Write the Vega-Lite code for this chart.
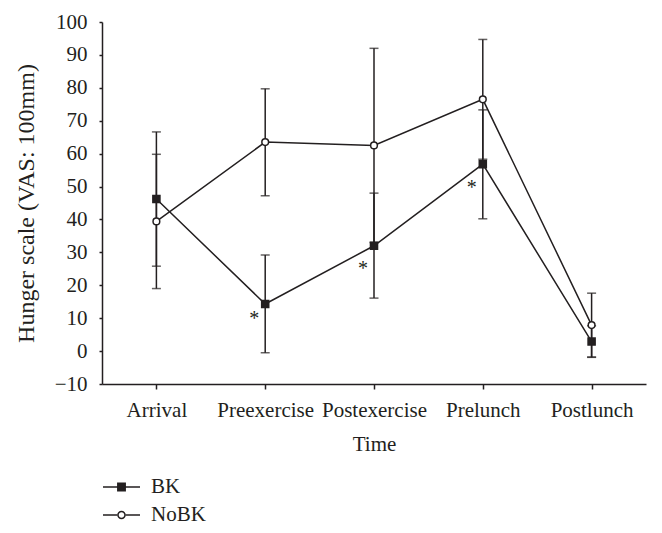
{
  "$schema": "https://vega.github.io/schema/vega-lite/v6.json",
  "width": 544,
  "height": 362,
  "autosize": {"type": "none"},
  "padding": {"left": 102, "top": 22, "right": 16, "bottom": 149},
  "background": "white",
  "config": {
    "view": {"stroke": null},
    "font": "Liberation Serif",
    "axis": {
      "domainColor": "#231f20",
      "tickColor": "#231f20",
      "labelColor": "#231f20",
      "titleColor": "#231f20",
      "labelFont": "Liberation Serif",
      "titleFont": "Liberation Serif",
      "labelFontSize": 21,
      "titleFontSize": 21,
      "titleFontWeight": "normal",
      "grid": false,
      "domainWidth": 1.5,
      "tickWidth": 1.5,
      "labelOverlap": false
    },
    "legend": {
      "labelFont": "Liberation Serif",
      "labelFontSize": 21,
      "labelColor": "#231f20"
    }
  },
  "datasets": {
    "stats": [
      {"time": "Arrival", "series": "BK", "mean": 46.2, "lo": 25.8, "hi": 66.6},
      {"time": "Arrival", "series": "NoBK", "mean": 39.4, "lo": 19.0, "hi": 59.8},
      {"time": "Preexercise", "series": "BK", "mean": 14.3, "lo": -0.5, "hi": 29.2},
      {"time": "Preexercise", "series": "NoBK", "mean": 63.5, "lo": 47.2, "hi": 79.7},
      {"time": "Postexercise", "series": "BK", "mean": 32.0, "lo": 16.1, "hi": 48.0},
      {"time": "Postexercise", "series": "NoBK", "mean": 62.5, "lo": 33.0, "hi": 92.0},
      {"time": "Prelunch", "series": "BK", "mean": 56.8, "lo": 40.2, "hi": 73.3},
      {"time": "Prelunch", "series": "NoBK", "mean": 76.5, "lo": 58.3, "hi": 94.7},
      {"time": "Postlunch", "series": "BK", "mean": 2.9, "lo": -1.9, "hi": 7.7},
      {"time": "Postlunch", "series": "NoBK", "mean": 7.9, "lo": -1.8, "hi": 17.6}
    ],
    "stars": [
      {"time": "Preexercise", "pos": 11.0, "label": "*"},
      {"time": "Postexercise", "pos": 26.2, "label": "*"},
      {"time": "Prelunch", "pos": 50.8, "label": "*"}
    ]
  },
  "encoding": {
    "x": {
      "field": "time",
      "type": "ordinal",
      "sort": ["Arrival", "Preexercise", "Postexercise", "Prelunch", "Postlunch"],
      "scale": {"type": "point", "padding": 0.5},
      "axis": {
        "title": "Time",
        "labelAngle": 0,
        "tickSize": 5,
        "labelPadding": 10,
        "titlePadding": 13
      }
    }
  },
  "layer": [
    {
      "data": {"name": "stats"},
      "mark": {"type": "rule", "color": "#231f20", "strokeWidth": 1.5},
      "encoding": {
        "y": {
          "field": "lo",
          "type": "quantitative",
          "scale": {"domain": [-10, 100], "nice": false, "zero": false},
          "axis": {
            "title": "Hunger scale (VAS: 100mm)",
            "titleFontSize": 24,
            "tickCount": 11,
            "labelOverlap": false,
            "tickSize": 3,
            "labelPadding": 12,
            "titlePadding": 16
          }
        },
        "y2": {"field": "hi"}
      }
    },
    {
      "data": {"name": "stats"},
      "mark": {"type": "tick", "color": "#231f20", "size": 9, "thickness": 1.5},
      "encoding": {"y": {"field": "lo", "type": "quantitative", "axis": {"tickCount": 11, "labelOverlap": false}}}
    },
    {
      "data": {"name": "stats"},
      "mark": {"type": "tick", "color": "#231f20", "size": 9, "thickness": 1.5},
      "encoding": {"y": {"field": "hi", "type": "quantitative", "axis": {"tickCount": 11, "labelOverlap": false}}}
    },
    {
      "data": {"name": "stats"},
      "mark": {"type": "line", "color": "#231f20", "strokeWidth": 1.5},
      "encoding": {
        "y": {"field": "mean", "type": "quantitative", "axis": {"tickCount": 11, "labelOverlap": false}},
        "detail": {"field": "series"}
      }
    },
    {
      "data": {"name": "stats"},
      "mark": {"type": "point", "filled": true, "color": "#231f20", "opacity": 0},
      "encoding": {
        "y": {"field": "mean", "type": "quantitative", "axis": {"tickCount": 11, "labelOverlap": false}},
        "shape": {
          "field": "series",
          "type": "nominal",
          "scale": {
            "domain": ["BK", "NoBK"],
            "range": [
              "M-1,-0.04H1V0.04H-1ZM-0.24,-0.24H0.24V0.24H-0.24Z",
              "M-1,-0.04H-0.22V0.04H-1ZM0.22,-0.04H1V0.04H0.22ZM-0.23,0A0.23,0.23,0,1,0,0.23,0A0.23,0.23,0,1,0,-0.23,0ZM-0.15,0A0.15,0.15,0,1,1,0.15,0A0.15,0.15,0,1,1,-0.15,0Z"
            ]
          },
          "legend": {
            "title": null,
            "orient": "none",
            "legendX": 1,
            "legendY": 455,
            "clipHeight": 20,
            "rowPadding": 7,
            "labelOffset": 11,
            "symbolOpacity": 1,
            "symbolSize": 1369,
            "symbolStrokeWidth": 0,
            "symbolFillColor": "#231f20"
          }
        }
      }
    },
    {
      "data": {"name": "stats"},
      "transform": [{"filter": "datum.series === 'BK'"}],
      "mark": {"type": "point", "shape": "square", "filled": true, "fill": "#231f20", "stroke": "#231f20", "strokeWidth": 1.5, "opacity": 1, "size": 50},
      "encoding": {"y": {"field": "mean", "type": "quantitative", "axis": {"tickCount": 11, "labelOverlap": false}}}
    },
    {
      "data": {"name": "stats"},
      "transform": [{"filter": "datum.series === 'NoBK'"}],
      "mark": {"type": "point", "shape": "circle", "filled": true, "fill": "#ffffff", "stroke": "#231f20", "strokeWidth": 1.5, "opacity": 1, "size": 45},
      "encoding": {"y": {"field": "mean", "type": "quantitative", "axis": {"tickCount": 11, "labelOverlap": false}}}
    },
    {
      "data": {"name": "stars"},
      "mark": {"type": "text", "fontSize": 20, "font": "Liberation Serif", "color": "#231f20", "baseline": "middle", "dx": -11, "dy": 4},
      "encoding": {
        "y": {"field": "pos", "type": "quantitative", "axis": {"tickCount": 11, "labelOverlap": false}},
        "text": {"field": "label"}
      }
    }
  ]
}
